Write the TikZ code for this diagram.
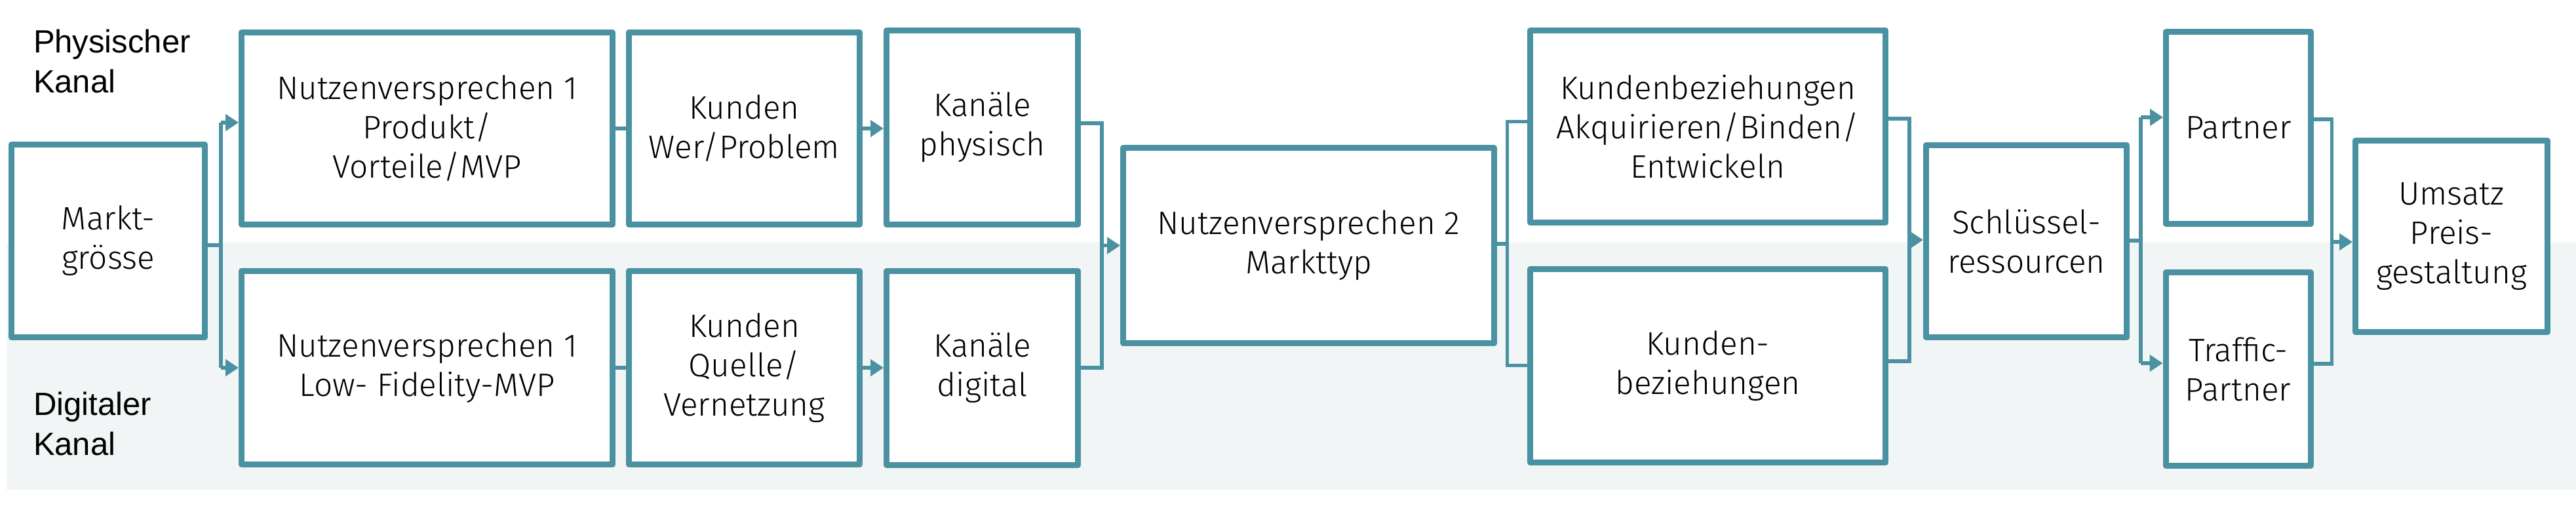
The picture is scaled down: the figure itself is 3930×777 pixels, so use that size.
\documentclass[tikz,border=0pt]{standalone}
\usepackage{fontspec}
\setmainfont{Liberation Sans}
\newfontfamily\boxfont{Fira Sans Light}
\usetikzlibrary{arrows.meta}
\definecolor{teal1}{RGB}{74,145,162}
\definecolor{bandc}{RGB}{241,245,246}
\tikzset{
  box/.style={draw=teal1, line width=1.8pt, fill=white, inner sep=0pt, align=center,
    line join=round, font=\boxfont\fontsize{9.9}{12}\selectfont, text=black},
  conn/.style={draw=teal1, line width=1.15pt},
  arr/.style={-{Triangle[length=4pt,width=5pt]}},
  lane/.style={inner sep=0pt, align=left, anchor=west, font=\fontsize{9.8}{12.2}\selectfont, text=black}
}
\begin{document}
\begin{tikzpicture}[x=0.2pt,y=-0.2pt]
\useasboundingbox (0,0) rectangle (3930,777);
% background band (digital channel)
\fill[bandc] (10,370) rectangle (3930,747);

% lane labels
\node[lane] (lphys) at (50,93) {Physischer\\Kanal};
\node[lane] (ldig) at (50,646) {Digitaler\\Kanal};

% boxes
\node[box, minimum width=59pt, minimum height=58.8pt] (markt) at (165,367.5) {Markt-\\grösse};
\node[box, minimum width=113.2pt, minimum height=58.6pt] (nv1t) at (651.5,196) {Nutzenversprechen 1\\Produkt/\\Vorteile/MVP};
\node[box, minimum width=113.2pt, minimum height=59pt] (nv1b) at (651.5,561) {Nutzenversprechen 1\\Low- Fidelity-MVP};
\node[box, minimum width=70.4pt, minimum height=58.6pt] (kut) at (1135.5,196) {Kunden\\Wer/Problem};
\node[box, minimum width=70.4pt, minimum height=59pt] (kub) at (1135.5,561) {Kunden\\Quelle/\\Vernetzung};
\node[box, minimum width=58.4pt, minimum height=59.2pt] (kat) at (1498.5,194.5) {Kanäle\\physisch};
\node[box, minimum width=58.4pt, minimum height=59.2pt] (kab) at (1498.5,561.5) {Kanäle\\digital};
\node[box, minimum width=113.2pt, minimum height=59.6pt] (nv2) at (1996.5,374.5) {Nutzenversprechen 2\\Markttyp};
\node[box, minimum width=108.4pt, minimum height=58.6pt] (kbt) at (2605.5,193) {Kundenbeziehungen\\Akquirieren/Binden/\\Entwickeln};
\node[box, minimum width=108.4pt, minimum height=59pt] (kbb) at (2605.5,558) {Kunden-\\beziehungen};
\node[box, minimum width=61.2pt, minimum height=58.6pt] (sr) at (3091.5,368) {Schlüssel-\\ressourcen};
\node[box, minimum width=44.2pt, minimum height=58.6pt] (pt) at (3415,195) {Partner};
\node[box, minimum width=44.2pt, minimum height=59pt] (tp) at (3414.5,563) {Traffic-\\Partner};
\node[box, minimum width=58.6pt, minimum height=58.4pt] (um) at (3740,360.5) {Umsatz\\Preis-\\gestaltung};

% junction coordinates
\coordinate (a0) at (337,374);
\coordinate (a1) at (337,187);
\coordinate (a2) at (337,561);
\coordinate (b0) at (1681,374.5);
\coordinate (b1) at (1681,188);
\coordinate (b2) at (1681,561);
\coordinate (c0) at (2299.5,372);
\coordinate (c1) at (2299.5,185.5);
\coordinate (c2) at (2299.5,557.5);
\coordinate (d0) at (2913,366);
\coordinate (d1) at (2913,181);
\coordinate (d2) at (2913,551);
\coordinate (e0) at (3266,367);
\coordinate (e1) at (3266,179);
\coordinate (e2) at (3266,554);
\coordinate (f0) at (3557.5,369);
\coordinate (f1) at (3557.5,182);
\coordinate (f2) at (3557.5,555);

% connectors
\draw[conn] (markt.east |- a0) -- (a0);
\draw[conn] (a1) -- (a2);
\draw[conn,arr] (a1) -- (nv1t.west |- a1);
\draw[conn,arr] (a2) -- (nv1b.west |- a2);

\draw[conn] (nv1t.east) -- (kut.west);
\draw[conn] (nv1b.east) -- (kub.west);

\draw[conn,arr] (kut.east) -- (kat.west |- kut.east);
\draw[conn,arr] (kub.east) -- (kab.west |- kub.east);

\draw[conn] (kat.east |- b1) -- (b1) -- (b2) -- (kab.east |- b2);
\draw[conn,arr] (b0) -- (nv2.west |- b0);

\draw[conn] (nv2.east |- c0) -- (c0);
\draw[conn] (kbt.west |- c1) -- (c1) -- (c2) -- (kbb.west |- c2);

\draw[conn] (kbt.east |- d1) -- (d1) -- (d2) -- (kbb.east |- d2);
\draw[conn,arr] (d0) -- (sr.west |- d0);

\draw[conn] (sr.east |- e0) -- (e0);
\draw[conn] (e1) -- (e2);
\draw[conn,arr] (e1) -- (pt.west |- e1);
\draw[conn,arr] (e2) -- (tp.west |- e2);

\draw[conn] (pt.east |- f1) -- (f1) -- (f2) -- (tp.east |- f2);
\draw[conn,arr] (f0) -- (um.west |- f0);
\end{tikzpicture}
\end{document}
